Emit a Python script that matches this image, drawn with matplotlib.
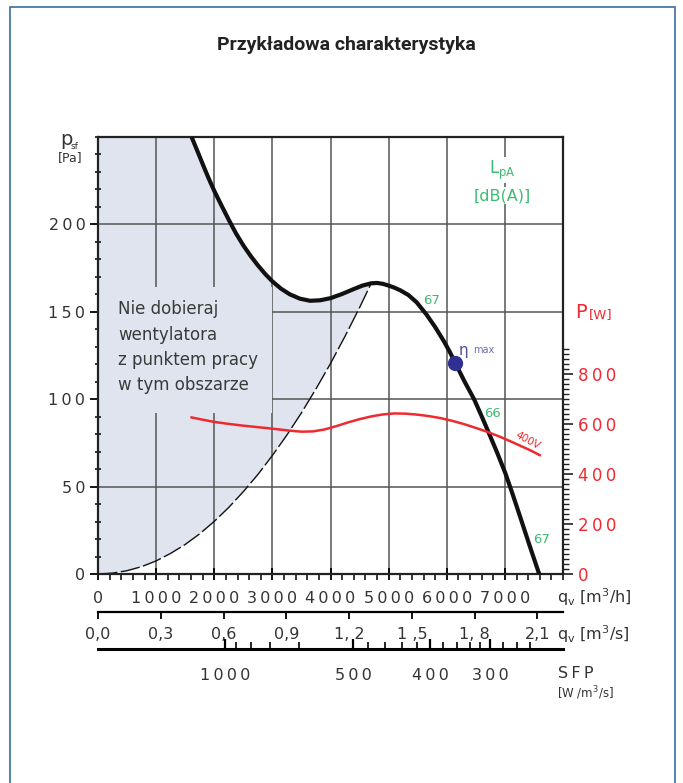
import numpy as np
import matplotlib
matplotlib.use("Agg")
import matplotlib.pyplot as plt
from matplotlib.patches import Rectangle

plt.rcParams['font.family'] = ['DejaVu Sans']

# fan curve: static pressure p_sf [Pa] vs airflow q_v [m3/h]
q_fan = [1610, 1700, 1800, 1900, 2000, 2125, 2250, 2375, 2500, 2625, 2750, 2875,
         3000, 3150, 3300, 3475, 3650, 3825, 4000, 4200, 4400, 4550, 4700, 4800,
         4900, 5000, 5100, 5200, 5340, 5480, 5650, 5800, 5950, 6050, 6150, 6300,
         6470, 6600, 6720, 6860, 7010, 7130, 7260, 7420, 7590]
p_fan = [250, 242.8, 234.6, 226.6, 219.2, 210.8, 202.6, 194.8, 188.0, 182.0, 176.6, 171.7,
         167.4, 163.2, 160.0, 157.5, 156.3, 156.6, 157.8, 160.2, 163.0, 165.0, 166.3, 166.5,
         166.0, 165.0, 163.8, 162.3, 159.6, 155.5, 148.5, 141.3, 133.2, 127.2, 120.5, 110.5,
         100.0, 90.3, 81.0, 70.0, 57.5, 46.0, 33.0, 16.8, 0]

# limit of the allowed working range (dashed)
q_lim = [0, 250, 500, 750, 1000, 1250, 1500, 1750, 2000, 2250, 2500, 2750, 3000,
         3250, 3500, 3750, 4000, 4250, 4500, 4700]
p_lim = [0, 0.5, 1.9, 4.2, 7.5, 11.8, 16.9, 23.0, 30.1, 38.1, 47.1, 56.9, 67.8,
         79.5, 92.2, 105.9, 120.4, 136.0, 152.4, 166.3]

# power consumption P [W], 400V
q_pow = [1610, 1800, 2000, 2250, 2500, 2750, 3000, 3150, 3300, 3500, 3700, 3900,
         4100, 4300, 4500, 4700, 4900, 5100, 5300, 5500, 5700, 5900, 6100, 6300,
         6500, 6700, 6900, 7100, 7300, 7450, 7600]
p_pow = [627, 618, 609, 601, 594, 588, 582, 578, 574, 570, 571, 579,
         592, 607, 620, 631, 639, 643, 642, 638, 632, 624, 613, 600,
         585, 569, 551, 531, 510, 494, 476]

# max efficiency point
q_eta, p_eta = 6150, 120.5

# sound level labels along the curve (q, p, text)
lpa_q = [5600, 6650, 7480]
lpa_p = [153, 88, 16]
lpa_txt = ["67", "66", "67"]

# axis ticks
qh_ticks = [0, 1000, 2000, 3000, 4000, 5000, 6000, 7000]
qs_ticks = [0.0, 0.3, 0.6, 0.9, 1.2, 1.5, 1.8, 2.1]
qs_labels = ["0,0", "0,3", "0,6", "0,9", "1, 2", "1 ,5", "1, 8", "2,1"]
p_ticks = [0, 50, 100, 150, 200]
pw_ticks = [0, 200, 400, 600, 800]
# SFP scale positions (in m3/h)
sfp_major_q = [2185, 4392, 5712, 6744]
sfp_labels = ["1000", "500", "400", "300"]
sfp_minor_q = [2374, 2627, 2959, 3458, 4650, 4938, 5225, 5483,
               5941, 6171, 6400, 6572, 6973, 7203, 7432]

W, H = 683, 783
fig = plt.figure(figsize=(W / 100, H / 100), dpi=100)


def fx(x):
    return x / W


def fy(y):
    return 1 - y / H


ax = fig.add_axes([fx(98), fy(574), (563 - 98) / W, (574 - 137) / H])
ax.set_xlim(0, 8000)
ax.set_ylim(0, 250)

txt_col = '#333333'
red = '#ee2a30'
green = '#3dbb74'
shade = '#dfe4ee'
sp = '\u2009'


def spaced(s):
    return sp.join(s)


# shaded "do not select" area
ax.fill([0, 0] + [q for q in q_fan if q <= 4700] + q_lim[::-1],
        [0, 250] + [p for q, p in zip(q_fan, p_fan) if q <= 4700] + p_lim[::-1],
        color=shade, lw=0, zorder=0.5)

ax.set_xticks(qh_ticks, labels=[spaced(t) for t in map(str, qh_ticks)])
ax.set_xticks(np.arange(0, 8001, 200), minor=True)
ax.set_yticks(p_ticks, labels=[spaced(str(t)) for t in p_ticks])
ax.set_yticks(np.arange(0, 251, 10), minor=True)
ax.grid(True, which='major', color='#555555', lw=1.1, zorder=1)
ax.set_axisbelow(True)
ax.tick_params(axis='x', which='major', direction='inout', length=9, width=1.3,
               pad=8, labelsize=11.5, labelcolor=txt_col)
ax.tick_params(axis='x', which='minor', direction='out', length=4, width=1.1)
ax.tick_params(axis='y', which='major', direction='out', length=6, width=1.3,
               pad=3, labelsize=11.5, labelcolor=txt_col)
ax.tick_params(axis='y', which='minor', direction='inout', length=5, width=1.1)
for s in ax.spines.values():
    s.set_linewidth(1.6)
    s.set_color('#222222')

# box for the warning text
ax.add_patch(Rectangle((0, 92), 3000, 72, facecolor=shade, edgecolor='none', zorder=1.5))
ax.text(350, 156.5, "Nie dobieraj\nwentylatora\nz punktem pracy\nw tym obszarze",
        fontsize=12, color='#3a3a3a', va='top', ha='left', linespacing=1.52, zorder=3)

ax.plot(q_lim, p_lim, color='#111111', lw=1.0, dashes=(14, 2.5), zorder=2)
ax.plot(q_fan, p_fan, color='#111111', lw=3, solid_capstyle='butt',
        solid_joinstyle='round', zorder=4)
ax.plot([q_eta], [p_eta], 'o', color='#2e3192', ms=10, zorder=5)
ax.text(q_eta + 60, p_eta + 3, "η", fontsize=11, color='#4a4fa0', va='bottom', zorder=5)
ax.text(q_eta + 300, p_eta + 5, "max", fontsize=7, color='#6a6fb0', va='bottom', zorder=5)

for q, p, t in zip(lpa_q, lpa_p, lpa_txt):
    ax.text(q, p, t, fontsize=9.5, color=green, ha='left', va='bottom', zorder=5)

ax.text(6950, 231, "L$_{\\mathregular{pA}}$", fontsize=12, color=green, ha='center',
        va='center', zorder=5, bbox=dict(fc='white', ec='none', pad=1))
ax.text(6950, 216.5, "[dB(A)]", fontsize=11.5, color=green, ha='center',
        va='center', zorder=5, bbox=dict(fc='white', ec='none', pad=1))

# power axis
axp = ax.twinx()
axp.set_ylim(0, 1750)
axp.plot(q_pow, p_pow, color=red, lw=1.8, zorder=3)
axp.set_yticks(pw_ticks, labels=[spaced(str(t)) for t in pw_ticks])
axp.set_yticks(np.arange(0, 901, 20), minor=True)
axp.tick_params(axis='y', which='major', direction='out', length=7, width=1.2,
                pad=4, labelsize=12, labelcolor=red, color='#222222')
axp.tick_params(axis='y', which='minor', direction='out', length=4, width=1.0,
                color='#222222')
for s in axp.spines.values():
    s.set_visible(False)
axp.text(7400, 535, "400V", fontsize=7.5, color=red, rotation=-28,
         ha='center', va='center')

# secondary airflow scale in m3/s
sec1 = ax.secondary_xaxis(-38 / 437, functions=(lambda q: np.asarray(q) / 3600,
                                                 lambda s: np.asarray(s) * 3600))
sec1.set_xticks(qs_ticks, labels=qs_labels)
sec1.tick_params(direction='out', length=5, width=1.3, pad=6, labelsize=11.5,
                 labelcolor=txt_col)
sec1.spines['bottom'].set_linewidth(1.6)

# SFP scale
sec2 = ax.secondary_xaxis(-75 / 437, functions=(lambda q: q, lambda q: q))
sec2.set_xticks(sfp_major_q, labels=[spaced(l) for l in sfp_labels])
sec2.set_xticks(sfp_minor_q, minor=True)
sec2.tick_params(which='major', direction='in', length=7, width=1.6, pad=14,
                 labelsize=11.5, labelcolor=txt_col)
sec2.tick_params(which='minor', direction='in', length=5, width=1.2)
sec2.spines['bottom'].set_linewidth(2.2)

# axis captions
fig.text(fx(60), fy(145), "p", fontsize=14, color=txt_col, va='baseline')
fig.text(fx(71), fy(149), "sf", fontsize=6.5, color=txt_col, va='baseline')
fig.text(fx(58), fy(158), "[Pa]", fontsize=9, color=txt_col, va='center')
fig.text(fx(575), fy(313), "P", fontsize=14, color=red, va='center')
fig.text(fx(589), fy(315), "[W]", fontsize=9.5, color=red, va='center')
fig.text(fx(557), fy(597), "q$_\\mathregular{v}$ [m$^\\mathregular{3}$/h]", fontsize=11.5,
         color=txt_col, va='center')
fig.text(fx(557), fy(634), "q$_\\mathregular{v}$ [m$^\\mathregular{3}$/s]", fontsize=11.5,
         color=txt_col, va='center')
fig.text(fx(558), fy(673), spaced("SFP"), fontsize=11.5, color=txt_col, va='center')
fig.text(fx(557), fy(693), "[W /m$^\\mathregular{3}$/s]", fontsize=8.5, color=txt_col,
         va='center')

fig.text(0.507, fy(45), "Przykładowa charakterystyka", fontsize=14, color='#222222',
         ha='center', va='center', fontweight='semibold', family='Roboto')

fig.patches.append(Rectangle((fx(10), -0.02), (675 - 10) / W, fy(7) + 0.02,
                             transform=fig.transFigure, fill=False,
                             edgecolor='#3a6ea5', lw=1.2))

fig.savefig("out.png", dpi=100)
